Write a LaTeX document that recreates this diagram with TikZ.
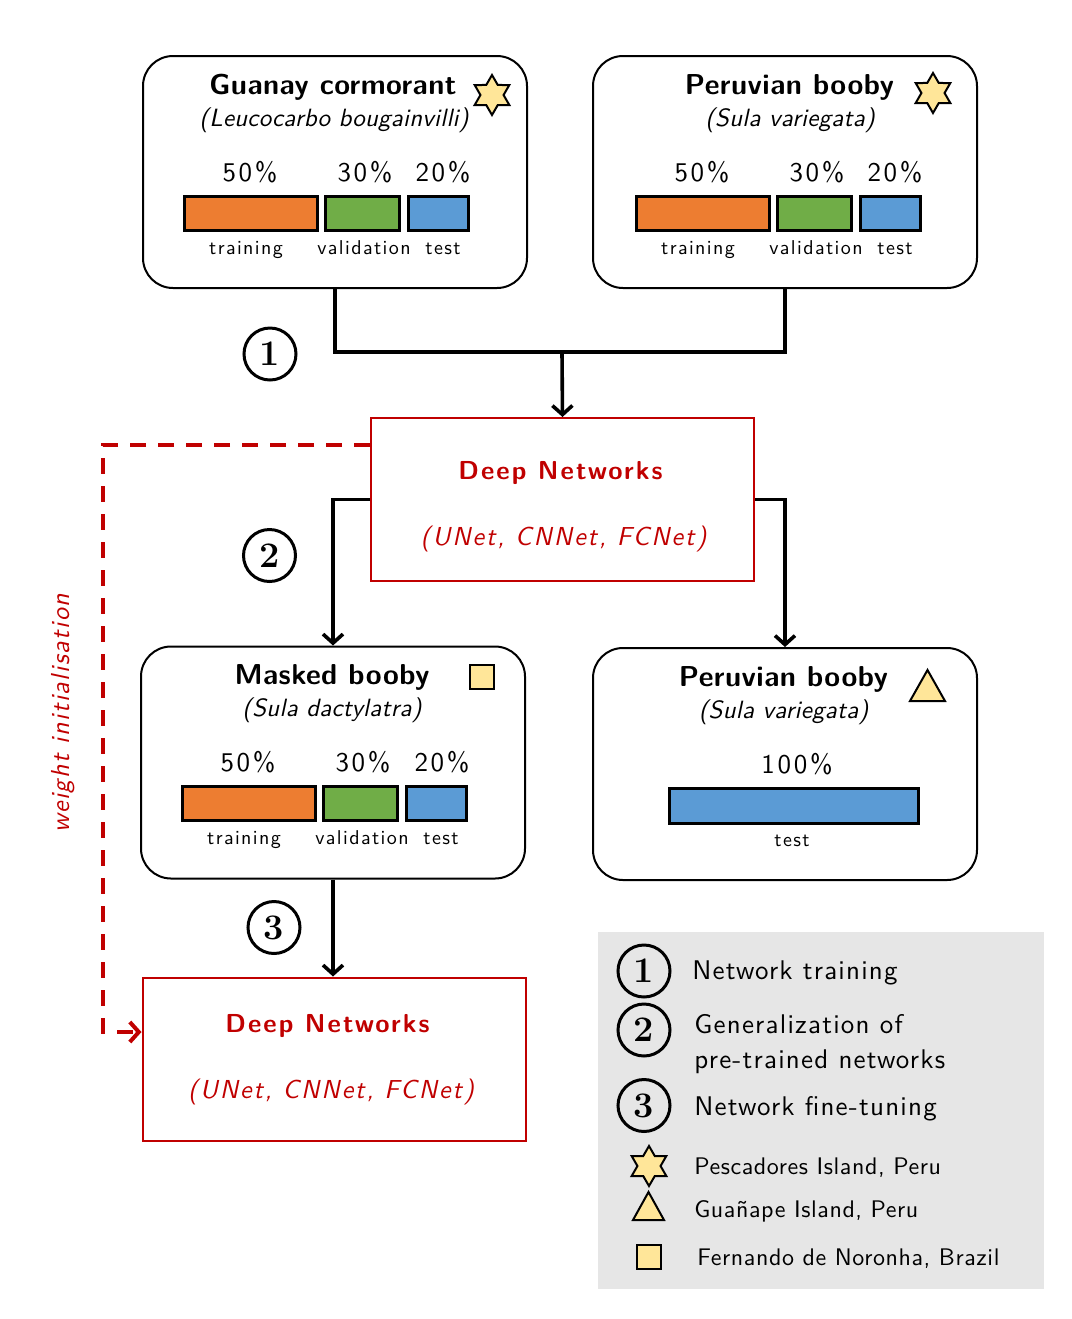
\documentclass[tikz,border=0pt]{standalone}
\usepackage{fontspec}
\setsansfont{lmsans10-regular.otf}[BoldFont=lmsans10-bold.otf, ItalicFont=lmsans10-oblique.otf, BoldItalicFont=lmsans10-boldoblique.otf]
\usetikzlibrary{arrows.meta,shapes.geometric}
\renewcommand{\familydefault}{\sfdefault}
\definecolor{cOr}{HTML}{ED7D31}
\definecolor{cGr}{HTML}{70AD47}
\definecolor{cBl}{HTML}{5B9BD5}
\definecolor{cRed}{HTML}{C00000}
\definecolor{cYel}{HTML}{FFE699}
\definecolor{cLeg}{HTML}{E6E6E6}
\newcommand{\ls}[1]{\addfontfeature{LetterSpace=#1}}
\tikzset{
  speciesbox/.style={draw, line width=1pt, rounded corners=15pt, minimum width=192pt, minimum height=116pt, inner sep=0pt},
  dnbox/.style={draw=cRed, line width=1pt, minimum width=191.5pt, minimum height=81.5pt, inner sep=0pt},
  bar/.style={draw, line width=1.5pt, minimum height=17pt, inner sep=0pt},
  num/.style={circle, draw, line width=1.5pt, minimum size=26pt, inner sep=0pt, font=\rmfamily\bfseries\fontsize{18}{18}\selectfont},
  conn/.style={line width=1.8pt, -{Straight Barb[length=4.5pt,width=10pt]}},
  plainconn/.style={line width=1.8pt},
  wconn/.style={cRed, line width=2pt, dash pattern=on 8pt off 6pt, -{Straight Barb[length=4.5pt,width=10pt]}},
  ttl/.style={anchor=base, font=\bfseries\fontsize{14.4}{16}\selectfont\ls{1.5}},
  latin/.style={anchor=base, font=\itshape\fontsize{12.5}{14}\selectfont\ls{0.8}},
  pct/.style={anchor=base, font=\fontsize{13.5}{15}\selectfont\ls{10}},
  lab/.style={anchor=base, font=\fontsize{10}{12}\selectfont\ls{7}},
  dnt/.style={anchor=base, text=cRed, font=\bfseries\fontsize{13}{15}\selectfont\ls{8}},
  dni/.style={anchor=base, text=cRed, font=\itshape\fontsize{13}{15}\selectfont\ls{7.3}},
  legt/.style={anchor=base west, inner sep=0pt, font=\fontsize{13.5}{16}\selectfont\ls{4.5}},
  legs/.style={anchor=base west, inner sep=0pt, font=\fontsize{12}{14}\selectfont\ls{2.4}},
  symb/.style={draw, fill=cYel, line width=1pt},
  starsym/.style={symb, star, star points=6, star point ratio=1.73, minimum size=20pt, inner sep=0pt},
  sqsym/.style={symb, rectangle, minimum size=12pt, inner sep=0pt},
}
\begin{document}
\begin{tikzpicture}[x=0.5pt,y=-0.5pt]
\useasboundingbox (0,0) rectangle (1072,1319);
% legend background
\fill[cLeg] (598,932) rectangle (1044,1289);

% species boxes
\node[speciesbox] (box1) at (335,172) {};
\node[speciesbox] (box2) at (785,172) {};
\node[speciesbox] (box3) at (333,762.5) {};
\node[speciesbox] (box4) at (785,764) {};

% Deep networks boxes
\node[dnbox] (dn1) at (562.5,499.5) {};
\node[dnbox] (dn2) at (334,1059) {};

% box 1 content
\node[ttl] (t1) at (333,94) {Guanay cormorant};
\node[latin] (l1) at (334,126) {(Leucocarbo bougainvilli)};
\node[starsym] (s1) at (492,95) {};
\node[bar, fill=cOr, minimum width=66.5pt] (b1o) at (250.5,213) {};
\node[bar, fill=cGr, minimum width=37pt] (b1g) at (362,213) {};
\node[bar, fill=cBl, minimum width=30pt] (b1b) at (438,213) {};
\node[pct] (p1o) at (250,181) {50\%};
\node[pct] (p1g) at (365,181) {30\%};
\node[pct] (p1b) at (443,181) {20\%};
\node[lab] (c1o) at (246,254) {training};
\node[lab] (c1g) at (364,254) {validation};
\node[lab] (c1b) at (443,254) {test};

% box 2 content
\node[ttl] (t2) at (789.5,94) {Peruvian booby};
\node[latin] (l2) at (790,126) {(Sula variegata)};
\node[starsym] (s2) at (933,93) {};
\node[bar, fill=cOr, minimum width=66.5pt] (b2o) at (702.5,213) {};
\node[bar, fill=cGr, minimum width=37pt] (b2g) at (814,213) {};
\node[bar, fill=cBl, minimum width=30pt] (b2b) at (890,213) {};
\node[pct] (p2o) at (702,181) {50\%};
\node[pct] (p2g) at (817,181) {30\%};
\node[pct] (p2b) at (895,181) {20\%};
\node[lab] (c2o) at (698,254) {training};
\node[lab] (c2g) at (816,254) {validation};
\node[lab] (c2b) at (895,254) {test};

% box 3 content
\node[ttl] (t3) at (332,684) {Masked booby};
\node[latin] (l3) at (332,716) {(Sula dactylatra)};
\node[sqsym] (s3) at (482,677) {};
\node[bar, fill=cOr, minimum width=66.5pt] (b3o) at (248.5,803) {};
\node[bar, fill=cGr, minimum width=37pt] (b3g) at (360,803) {};
\node[bar, fill=cBl, minimum width=30pt] (b3b) at (436,803) {};
\node[pct] (p3o) at (248,771) {50\%};
\node[pct] (p3g) at (363,771) {30\%};
\node[pct] (p3b) at (442,771) {20\%};
\node[lab] (c3o) at (244,844) {training};
\node[lab] (c3g) at (362,844) {validation};
\node[lab] (c3b) at (441,844) {test};

% box 4 content
\node[ttl] (t4) at (783.5,686) {Peruvian booby};
\node[latin] (l4) at (783.5,718) {(Sula variegata)};
\draw[symb] (910,701) -- (945,701) -- (927.5,670) -- cycle;
\node[bar, fill=cBl, minimum width=124.5pt, minimum height=17.5pt] (b4b) at (793.5,805.5) {};
\node[pct] (p4b) at (797,773) {100\%};
\node[lab] (c4b) at (792,846) {test};

% DN texts
\node[dnt] (d1t) at (560.5,479) {Deep Networks};
\node[dni] (d1i) at (563.5,545) {(UNet, CNNet, FCNet)};
\node[dnt] (d2t) at (327.5,1032) {Deep Networks};
\node[dni] (d2i) at (331,1098) {(UNet, CNNet, FCNet)};

% connectors
\coordinate (j) at (562,352);
\draw[plainconn] (box1.south) |- (j);
\draw[plainconn] (box2.south) |- (j);
\draw[conn] (j) -- (dn1.north);
\draw[conn] (dn1.west) -| (box3.north);
\draw[conn] (dn1.east) -| (box4.north);
\draw[conn] (box3.south) -- (box3.south |- dn2.north);

% weight initialisation
\coordinate (wt) at (103,445);
\coordinate (wb) at (103,1032);
\draw[wconn] (dn1.north west |- wt) -- (wt) -- (wb) -- (wb -| dn2.west);
\node[rotate=90, text=cRed, font=\itshape\fontsize{13}{15}\selectfont\ls{5.8}] (wi) at (63,713) {weight initialisation};

% step numbers
\node[num] (n1) at (270,354) {1};
\node[num] (n2) at (269.5,555.5) {2};
\node[num] (n3) at (274,927.5) {3};

% legend
\node[num] (ln1) at (644,971) {1};
\node[num] (ln2) at (644,1030) {2};
\node[num] (ln3) at (644,1105.5) {3};
\node[legt] (lt1) at (692,979) {Network training};
\node[legt] (lt2a) at (694,1033) {Generalization of};
\node[legt] (lt2b) at (694,1068) {pre-trained networks};
\node[legt] (lt3) at (694,1115) {Network fine-tuning};
\node[starsym] (ls1) at (649,1166) {};
\draw[symb] (633,1220) -- (664,1220) -- (648.5,1192) -- cycle;
\node[sqsym] (ls3) at (649,1257) {};
\node[legs] (lg1) at (694,1174) {Pescadores Island, Peru};
\node[legs] (lg2) at (694,1217) {Guañape Island, Peru};
\node[legs] (lg3) at (697,1265) {Fernando de Noronha, Brazil};
\end{tikzpicture}
\end{document}
